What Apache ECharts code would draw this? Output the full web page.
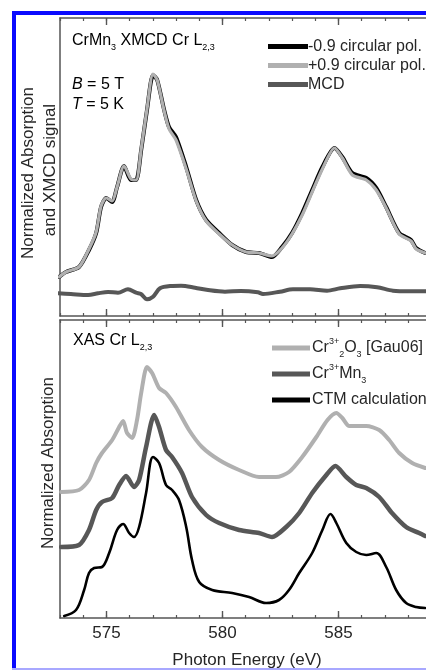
<!DOCTYPE html>
<html>
<head>
<meta charset="utf-8">
<script src="https://cdn.jsdelivr.net/npm/echarts@6/dist/echarts.min.js"></script>
<style>
html,body{margin:0;padding:0;background:#fff;}
#chart{width:426px;height:670px;}
</style>
</head>
<body>
<div id="chart"></div>
<script>
// ---------- data (photon energy in eV, normalized absorption in a.u.) ----------
const topEnergy = [572.96,573.26,573.82,574.25,574.56,574.77,574.99,575.25,575.46,575.76,
  576.06,576.28,576.50,576.75,577.01,577.19,577.49,577.70,578.00,578.44,
  578.87,579.30,579.86,580.42,581.02,581.58,582.14,582.57,583.00,583.44,
  583.87,584.31,584.83,585.17,585.60,586.20,586.63,587.06,587.62,588.13,588.35,588.74];
const minusPol = [0.39,0.44,0.49,0.66,0.83,1.09,1.18,1.14,1.29,1.50,
  1.36,1.36,1.66,2.06,2.41,2.36,2.06,1.89,1.79,1.49,
  1.16,0.96,0.83,0.71,0.64,0.63,0.59,0.69,0.83,1.03,
  1.26,1.49,1.68,1.59,1.43,1.38,1.28,1.09,0.83,0.76,0.68,0.63];
const plusPol = [0.39,0.44,0.49,0.67,0.84,1.10,1.18,1.15,1.29,1.50,
  1.37,1.36,1.67,2.07,2.42,2.36,2.05,1.87,1.76,1.47,
  1.15,0.95,0.82,0.71,0.64,0.63,0.60,0.68,0.82,1.01,
  1.24,1.47,1.68,1.58,1.41,1.36,1.26,1.08,0.82,0.75,0.67,0.63];

const mcdEnergy = [572.91,573.47,574.21,574.64,575.07,575.50,575.93,576.28,576.49,576.75,
  577.01,577.31,577.78,578.22,578.82,579.38,580.11,580.80,581.53,581.75,
  582.48,583.04,583.78,584.51,585.08,585.94,586.67,587.35,588.09,588.78];
const mcd = [0.227,0.22,0.21,0.227,0.24,0.233,0.267,0.233,0.22,0.167,
  0.193,0.277,0.30,0.303,0.283,0.26,0.243,0.25,0.237,0.22,
  0.243,0.267,0.267,0.253,0.277,0.30,0.287,0.253,0.247,0.247];

const cr2o3Energy = [573.05,573.82,574.25,574.56,574.81,575.25,575.55,575.72,575.89,576.11,
  576.32,576.50,576.75,576.97,577.27,577.57,578.00,578.56,579.12,579.86,
  580.72,581.58,582.31,582.87,583.44,584.05,584.53,584.91,585.17,585.47,
  586.20,586.76,587.19,587.62,588.18,588.74];
const cr2o3 = [1.26,1.28,1.38,1.55,1.65,1.78,1.91,1.97,1.85,1.80,
  1.98,2.25,2.51,2.45,2.30,2.25,2.11,1.88,1.71,1.58,
  1.48,1.41,1.41,1.46,1.61,1.81,1.98,2.05,2.00,1.92,
  1.92,1.88,1.78,1.65,1.55,1.50];

const crmn3Energy = [573.05,573.82,574.25,574.56,574.81,575.25,575.55,575.85,576.19,576.41,
  576.71,577.06,577.27,577.57,577.83,578.26,578.69,579.30,579.86,580.72,
  581.58,582.14,582.75,583.31,583.87,584.48,584.87,585.34,585.77,586.20,
  586.76,587.31,587.92,588.48,588.74];
const crmn3 = [0.71,0.73,0.88,1.08,1.16,1.20,1.33,1.42,1.31,1.38,
  1.71,2.03,1.91,1.68,1.61,1.45,1.21,1.03,0.95,0.88,
  0.85,0.81,0.91,1.05,1.25,1.43,1.52,1.41,1.33,1.30,
  1.21,1.05,0.91,0.85,0.82];

const ctmEnergy = [573.18,573.69,574.04,574.25,574.47,574.81,575.12,575.46,575.72,575.98,
  576.19,576.41,576.71,577.01,577.27,577.57,577.83,578.13,578.44,578.69,
  579.00,579.56,580.42,581.15,581.88,582.44,582.87,583.31,583.87,584.31,
  584.66,584.91,585.34,585.77,586.20,586.63,587.06,587.49,587.92,588.35,588.74];
const ctm = [0.02,0.08,0.28,0.45,0.50,0.51,0.65,0.88,0.94,0.85,
  0.81,0.91,1.25,1.61,1.55,1.33,1.28,1.18,0.91,0.58,
  0.36,0.28,0.25,0.21,0.15,0.18,0.28,0.45,0.65,0.88,
  1.04,0.95,0.75,0.66,0.63,0.65,0.51,0.28,0.15,0.11,0.10];

const majorTicks = [575, 580, 585, 590];
const xMin = 573, xMax = 590;
const yMin = 0, yMax = 2.98;

const topNames = ['-0.9 circular pol.', '+0.9 circular pol.', 'MCD'];
const bottomNames = ['Cr2O3', 'CrMn3', 'CTM calculation'];

// ---------- chart ----------
const zip = (xs, ys) => xs.map((x, i) => [x, ys[i]]);
const chart = echarts.init(document.getElementById('chart'), null, {renderer: 'canvas'});
const AX = '#555';
const TXT = '#262626';
const FONT = 'Liberation Sans, Arial, sans-serif';

function xAxes(gridIndex, withLabels) {
  const base = {
    type: 'value', gridIndex, min: xMin, max: xMax,
    splitLine: {show: false}
  };
  return [
    Object.assign({}, base, { // bottom minor
      position: 'bottom', interval: 1,
      axisLine: {show: true, onZero: false, lineStyle: {color: AX, width: 1.5}},
      axisTick: {show: true, inside: true, length: 3, lineStyle: {color: AX, width: 1.2}},
      axisLabel: {show: withLabels, margin: 7, fontSize: 17, color: TXT, fontFamily: FONT,
        formatter: v => (majorTicks.indexOf(v) >= 0 ? String(v) : '')}
    }),
    Object.assign({}, base, { // bottom major
      position: 'bottom',
      axisLine: {show: false, onZero: false},
      axisTick: {show: true, inside: true, length: 7, customValues: majorTicks, lineStyle: {color: AX, width: 1.4}},
      axisLabel: {show: false}
    }),
    Object.assign({}, base, { // top minor
      position: 'top', interval: 1,
      axisLine: {show: true, onZero: false, lineStyle: {color: AX, width: 1.5}},
      axisTick: {show: true, inside: true, length: 3, lineStyle: {color: AX, width: 1.2}},
      axisLabel: {show: false}
    }),
    Object.assign({}, base, { // top major
      position: 'top',
      axisLine: {show: false, onZero: false},
      axisTick: {show: true, inside: true, length: 7, customValues: majorTicks, lineStyle: {color: AX, width: 1.4}},
      axisLabel: {show: false}
    })
  ];
}

function yAxis(gridIndex) {
  return {
    type: 'value', gridIndex, min: yMin, max: yMax, position: 'left',
    axisLine: {show: true, onZero: false, lineStyle: {color: AX, width: 1.5}},
    axisTick: {show: false}, axisLabel: {show: false}, splitLine: {show: false}
  };
}

function line(name, xIdx, yIdx, data, color, width, smooth, z) {
  return {
    name, type: 'line', xAxisIndex: xIdx, yAxisIndex: yIdx, data,
    showSymbol: false, symbol: 'none', smooth, z,
    color, lineStyle: {color, width, join: 'round', cap: 'round'},
    emphasis: {disabled: true}
  };
}

const rich = {
  n: {fontSize: 16, fontFamily: FONT, color: TXT},
  i: {fontSize: 16, fontFamily: FONT, color: TXT, fontStyle: 'italic'},
  sup: {fontSize: 9, fontFamily: FONT, color: TXT, verticalAlign: 'top', lineHeight: 22},
  sub: {fontSize: 9, fontFamily: FONT, color: TXT, verticalAlign: 'bottom', lineHeight: 22}
};

const option = {
  backgroundColor: '#fff',
  animation: false,
  grid: [
    {left: 60, top: 18, width: 394.4, height: 298, outerBoundsMode: 'none', containLabel: false},
    {left: 60, top: 320, width: 394.4, height: 298, outerBoundsMode: 'none', containLabel: false}
  ],
  xAxis: [...xAxes(0, false), ...xAxes(1, true)],
  yAxis: [yAxis(0), yAxis(1)],
  legend: [
    {
      data: topNames, orient: 'vertical', left: 263, top: 33,
      itemWidth: 40, itemHeight: 5, itemGap: 2, icon: 'rect',
      textStyle: {fontSize: 16, fontFamily: FONT, color: TXT, lineHeight: 17, padding: [0, 0, 0, -5]},
      selectedMode: false
    },
    {
      data: bottomNames, orient: 'vertical', left: 267, top: 332,
      itemWidth: 38, itemHeight: 5, itemGap: 4, icon: 'rect',
      textStyle: {fontSize: 16, fontFamily: FONT, color: TXT, lineHeight: 22, rich, padding: [0, 0, 0, -3]},
      formatter: function (name) {
        if (name === 'Cr2O3') return '{n|Cr}{sup|3+}{sub|2}{n|O}{sub|3}{n| [Gau06]}';
        if (name === 'CrMn3') return '{n|Cr}{sup|3+}{n|Mn}{sub|3}';
        return '{n|' + name + '}';
      },
      selectedMode: false
    }
  ],
  series: [
    line('MCD', 0, 0, zip(mcdEnergy, mcd), '#575757', 4, 0.3, 2),
    line('-0.9 circular pol.', 0, 0, zip(topEnergy, minusPol), '#000000', 4, 0.25, 3),
    line('+0.9 circular pol.', 0, 0, zip(topEnergy, plusPol), '#b0b0b0', 3.2, 0.25, 4),
    line('Cr2O3', 4, 1, zip(cr2o3Energy, cr2o3), '#b0b0b0', 4, 0.25, 2),
    line('CrMn3', 4, 1, zip(crmn3Energy, crmn3), '#575757', 4.5, 0.25, 3),
    line('CTM calculation', 4, 1, zip(ctmEnergy, ctm), '#000000', 2.6, 0.35, 4)
  ],
  graphic: [
    // blue frame
    {type: 'rect', shape: {x: 12, y: 11, width: 4, height: 659}, style: {fill: '#0a0aff'}, silent: true},
    {type: 'rect', shape: {x: 12, y: 11, width: 414, height: 4}, style: {fill: '#0a0aff'}, silent: true},
    {type: 'rect', shape: {x: 12, y: 668, width: 414, height: 2}, style: {fill: '#a8a8ff'}, silent: true},
    // axis titles
    {type: 'text', x: 28, y: 173, rotation: Math.PI / 2,
      style: {text: 'Normalized Absorption', fontSize: 17, fontFamily: FONT, fill: TXT, align: 'center', verticalAlign: 'middle'}},
    {type: 'text', x: 50, y: 170, rotation: Math.PI / 2,
      style: {text: 'and XMCD signal', fontSize: 17, fontFamily: FONT, fill: TXT, align: 'center', verticalAlign: 'middle'}},
    {type: 'text', x: 48, y: 463, rotation: Math.PI / 2,
      style: {text: 'Normalized Absorption', fontSize: 17, fontFamily: FONT, fill: TXT, align: 'center', verticalAlign: 'middle'}},
    {type: 'text', x: 247, y: 660,
      style: {text: 'Photon Energy (eV)', fontSize: 17, fontFamily: FONT, fill: TXT, align: 'center', verticalAlign: 'middle'}},
    // annotations
    {type: 'text', x: 72, y: 41,
      style: {text: '{n|CrMn}{sub|3}{n| XMCD Cr L}{sub|2,3}', rich, verticalAlign: 'middle'}},
    {type: 'text', x: 72, y: 85,
      style: {text: '{i|B}{n| = 5 T}', rich, verticalAlign: 'middle'}},
    {type: 'text', x: 72, y: 105,
      style: {text: '{i|T}{n| = 5 K}', rich, verticalAlign: 'middle'}},
    {type: 'text', x: 73, y: 341,
      style: {text: '{n|XAS Cr L}{sub|2,3}', rich, verticalAlign: 'middle'}}
  ]
};
chart.setOption(option);
</script>
</body>
</html>
